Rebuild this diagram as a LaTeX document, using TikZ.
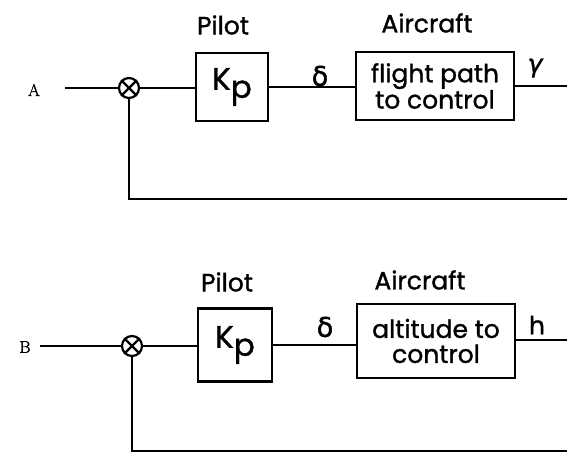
\documentclass[tikz,border=0pt]{standalone}
\usepackage{fontspec}
\newfontfamily\lab{Poppins}[FakeBold=1.2]
\newfontfamily\grk{DejaVu Sans}[FakeBold=1.5]
\newfontfamily\grki{DejaVu Sans Oblique}[FakeBold=1.5]
\newfontfamily\inpfont{Latin Modern Roman}[FakeBold=1.5]
\tikzset{
  wire/.style={line width=2.4pt},
  block/.style={draw, line width=2.5pt, inner sep=0pt, align=center, font=\lab\fontsize{25}{25}\selectfont},
  sum/.style={draw, circle, line width=2.2pt, minimum size=20pt, inner sep=0pt},
  title/.style={font=\lab\fontsize{25}{28}\selectfont},
  sig/.style={font=\grk\fontsize{27}{29}\selectfont},
  sigi/.style={font=\grki\fontsize{25}{27}\selectfont},
  inp/.style={font=\inpfont\fontsize{17}{20}\selectfont},
}
\newcommand{\kpgain}{\lab\fontsize{31}{33}\selectfont K\raisebox{-8pt}{p}}
\begin{document}
\begin{tikzpicture}[x=1pt,y=-1pt]
\useasboundingbox (0,0) rectangle (567,454);
% ---------- top diagram ----------
\node[inp] (la) at (34,90) {A};
\coordinate (ain) at (65,88);
\node[sum] (c1) at (129,88) {};
\draw[wire] (c1.north east) -- (c1.south west) (c1.north west) -- (c1.south east);
\node[block, minimum width=72pt, minimum height=68pt] (k1) at (232,87) {\kpgain};
\node[block, minimum width=158pt, minimum height=68pt] (f1) at (435,86) {\raisebox{-3pt}{\parbox{150pt}{\centering flight path\\to control}}};
\node[title] (p1) at (223,25) {Pilot};
\node[title] (a1) at (427,23) {Aircraft};
\node[sig] (d1) at (320,76) {δ};
\node[sigi] (g1) at (535,68) {γ};
\coordinate (o1) at (567,86);
\coordinate (fb1) at (567,199);
\draw[wire] (ain) -- (c1);
\draw[wire] (c1) -- (c1 -| k1.west);
\draw[wire] (k1.east) -- (k1.east -| f1.west);
\draw[wire] (f1.east |- o1) -- (o1);
\draw[wire] (c1) |- (fb1);
% ---------- bottom diagram ----------
\node[inp] (lb) at (25,347) {B};
\coordinate (bin) at (40,346);
\node[sum] (c2) at (132,346) {};
\draw[wire] (c2.north east) -- (c2.south west) (c2.north west) -- (c2.south east);
\node[block, minimum width=74pt, minimum height=73pt] (k2) at (235,345) {\kpgain};
\node[block, minimum width=158pt, minimum height=74pt] (f2) at (436,341) {altitude to\\control};
\node[sig] (d2) at (325,327) {δ};
\node[title] (p2) at (227,282) {Pilot};
\node[title] (a2) at (420,280) {Aircraft};
\node[title] (h2) at (537,325) {h};
\coordinate (o2) at (567,340);
\coordinate (fb2) at (567,451);
\draw[wire] (bin) -- (c2);
\draw[wire] (c2) -- (c2 -| k2.west);
\draw[wire] (k2.east) -- (k2.east -| f2.west);
\draw[wire] (f2.east |- o2) -- (o2);
\draw[wire] (c2) |- (fb2);
\end{tikzpicture}
\end{document}
